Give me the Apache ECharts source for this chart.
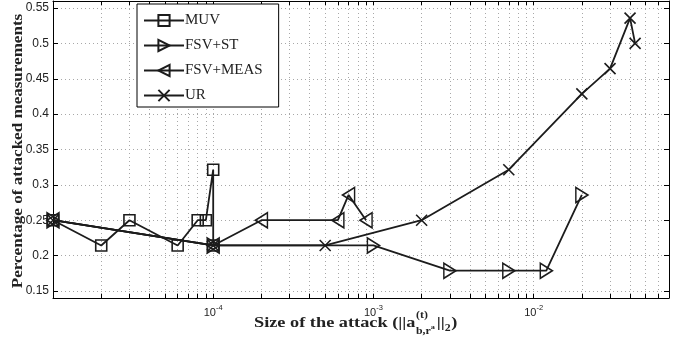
<!DOCTYPE html>
<html>
<head>
<meta charset="utf-8">
<script src="https://cdn.jsdelivr.net/npm/echarts@6/dist/echarts.min.js"></script>
<style>
  html, body { margin: 0; padding: 0; background: #fff; }
  #chart { width: 688px; height: 339px; }
</style>
</head>
<body>
<div id="chart"></div>
<script>
// Attack size (log scale) vs. share of attacked measurements, four strategies
const muvX = [1e-5, 2e-5, 3e-5, 6e-5, 8e-5, 9e-5, 1e-4, 1e-4];
const muvY = [0.25, 0.2143, 0.25, 0.2143, 0.25, 0.25, 0.3214, 0.2143];

const fsvStX = [1e-5, 1e-4, 1e-3, 3e-3, 7e-3, 1.2e-2, 2e-2];
const fsvStY = [0.25, 0.2143, 0.2143, 0.1786, 0.1786, 0.1786, 0.2857];

const fsvMeasX = [1e-5, 1e-4, 2e-4, 6e-4, 7e-4, 9e-4];
const fsvMeasY = [0.25, 0.2143, 0.25, 0.25, 0.2857, 0.25];

const urX = [1e-5, 1e-4, 5e-4, 2e-3, 7e-3, 2e-2, 3e-2, 4e-2, 4.3e-2];
const urY = [0.25, 0.2143, 0.2143, 0.25, 0.3214, 0.4286, 0.4643, 0.5357, 0.5];

const seriesNames = ['MUV', 'FSV+ST', 'FSV+MEAS', 'UR'];

// axis ranges and tick positions
const xMin = 1e-5, xMax = 0.07;
const yMin = 0.14, yMax = 0.56;
const xLabelValues = [1e-4, 1e-3, 1e-2];
const yTickValues = [0.15, 0.2, 0.25, 0.3, 0.35, 0.4, 0.45, 0.5, 0.55];

// grid/tick positions on the log axis: 1..9 in every decade
const xTickValues = [];
for (let d = -5; d <= -2; d++) {
  for (let m = 1; m <= 9; m++) {
    const v = m * Math.pow(10, d);
    if (v >= xMin && v <= xMax) xTickValues.push(v);
  }
}

const INK = '#1c1c1c';
const GRID = '#a8a8a8';

function pairs(xs, ys) { return xs.map((x, i) => [x, ys[i]]); }

function lineSeries(name, xs, ys, symbol, size) {
  return {
    name: name,
    type: 'line',
    data: pairs(xs, ys),
    symbol: symbol,
    symbolSize: size,
    showAllSymbol: true,
    lineStyle: { color: INK, width: 1.8 },
    itemStyle: { color: 'rgba(255,255,255,0)', borderColor: INK, borderWidth: 1.6 },
    emphasis: { disabled: true },
    z: 3
  };
}

const SYM_RIGHT = 'path://M0,0L10,6L0,12Z';
const SYM_LEFT = 'path://M10,0L0,6L10,12Z';
const SYM_X = 'path://M0,0L10,10M10,0L0,10';

const xAxisCommon = {
  type: 'log',
  logBase: 10,
  min: xMin,
  max: xMax,
  axisLine: { show: true, onZero: false, lineStyle: { color: '#000', width: 1 } },
  axisTick: { show: true, inside: true, length: 4, customValues: xTickValues,
              lineStyle: { color: '#000', width: 1 } },
  minorTick: { show: false },
  splitLine: { show: false }
};

const yAxisCommon = {
  type: 'value',
  min: yMin,
  max: yMax,
  axisLine: { show: true, onZero: false, lineStyle: { color: '#000', width: 1 } },
  axisTick: { show: true, inside: true, length: 5, customValues: yTickValues,
              lineStyle: { color: '#000', width: 1 } },
  splitLine: { show: false }
};

const option = {
  animation: false,
  backgroundColor: '#fff',
  grid: { left: 53, right: 19, top: 1, bottom: 41, containLabel: false, outerBoundsMode: 'none' },
  xAxis: [
    Object.assign({}, xAxisCommon, {
      position: 'bottom',
      axisLabel: {
        show: true,
        customValues: xLabelValues,
        margin: 6,
        formatter: function (v) {
          const e = Math.round(Math.log10(v));
          return '{b|10}{s|' + e + '}';
        },
        rich: {
          b: { fontFamily: 'Liberation Sans', fontSize: 11, color: '#222', verticalAlign: 'bottom', lineHeight: 14 },
          s: { fontFamily: 'Liberation Sans', fontSize: 7.5, color: '#222', verticalAlign: 'top', lineHeight: 14, padding: [0, 0, 7, 0] }
        }
      },
      splitLine: { show: true, lineStyle: { color: GRID, width: 1, type: [1, 3] } }
    }),
    Object.assign({}, xAxisCommon, {
      position: 'top',
      axisLabel: { show: false }
    })
  ],
  yAxis: [
    Object.assign({}, yAxisCommon, {
      position: 'left',
      axisLabel: {
        show: true,
        customValues: yTickValues,
        margin: 4,
        fontFamily: 'Liberation Sans',
        fontSize: 12,
        color: '#222',
        formatter: function (v) { return String(+v.toFixed(2)); }
      },
      splitLine: { show: true, lineStyle: { color: GRID, width: 1, type: [1, 3] } }
    }),
    Object.assign({}, yAxisCommon, {
      position: 'right',
      axisLabel: { show: false }
    })
  ],
  legend: {
    show: true,
    data: seriesNames,
    orient: 'vertical',
    left: 137,
    top: 4,
    padding: [9, 16, 4, 6],
    itemWidth: 40,
    itemHeight: 14,
    itemGap: 10,
    backgroundColor: '#fff',
    borderColor: '#000',
    borderWidth: 1,
    borderRadius: 0,
    textStyle: { fontFamily: 'Liberation Serif', fontSize: 15, color: '#222', padding: [0, 0, 0, -4] },
    z: 10
  },
  series: [
    lineSeries(seriesNames[0], muvX, muvY, 'rect', 11),
    lineSeries(seriesNames[1], fsvStX, fsvStY, SYM_RIGHT, [12, 15]),
    lineSeries(seriesNames[2], fsvMeasX, fsvMeasY, SYM_LEFT, [12, 15]),
    lineSeries(seriesNames[3], urX, urY, SYM_X, 11)
  ]
};

// axis titles, laid out from text metrics (the x title carries a stacked super/subscript)
const measureCtx = document.createElement('canvas').getContext('2d');
function textWidth(txt, font) { measureCtx.font = font; return measureCtx.measureText(txt).width; }

const fMain = 'bold 15.5px "Liberation Serif"';
const fScript = 'bold 10px "Liberation Serif"';
const fTiny = 'bold 7px "Liberation Serif"';

const parts = [];
let cx = 0;
function put(txt, font, x, y) {
  parts.push({ type: 'text', x: x, y: y, silent: true,
    style: { text: txt, font: font, fill: '#222', align: 'left', verticalAlign: 'middle' } });
}
put('Size of the attack (||a', fMain, cx, 0);
cx += textWidth('Size of the attack (||a', fMain) + 0.5;
put('(t)', fScript, cx, -8);
put('b,r', fScript, cx, 8);
put('a', fTiny, cx + textWidth('b,r', fScript), 4);
cx += Math.max(textWidth('(t)', fScript), textWidth('b,r', fScript) + textWidth('a', fTiny)) + 1.5;
put('||', fMain, cx, 0);
cx += textWidth('||', fMain);
put('2', fScript, cx, 5);
cx += textWidth('2', fScript) + 0.5;
put(')', fMain, cx, 0);

const xTitleScale = 1.18;
const yTitleText = 'Percentage of attacked measurements';
const yTitleScale = 1.1;

option.graphic = [
  { type: 'group', x: 254, y: 323, scaleX: xTitleScale, children: parts, silent: true },
  { type: 'text', x: 18, y: 151, rotation: Math.PI / 2, scaleX: yTitleScale, silent: true,
    style: { text: yTitleText, font: fMain, fill: '#222', align: 'center', verticalAlign: 'middle' } }
];

const chart = echarts.init(document.getElementById('chart'), null, { renderer: 'canvas' });
chart.setOption(option);
</script>
</body>
</html>
